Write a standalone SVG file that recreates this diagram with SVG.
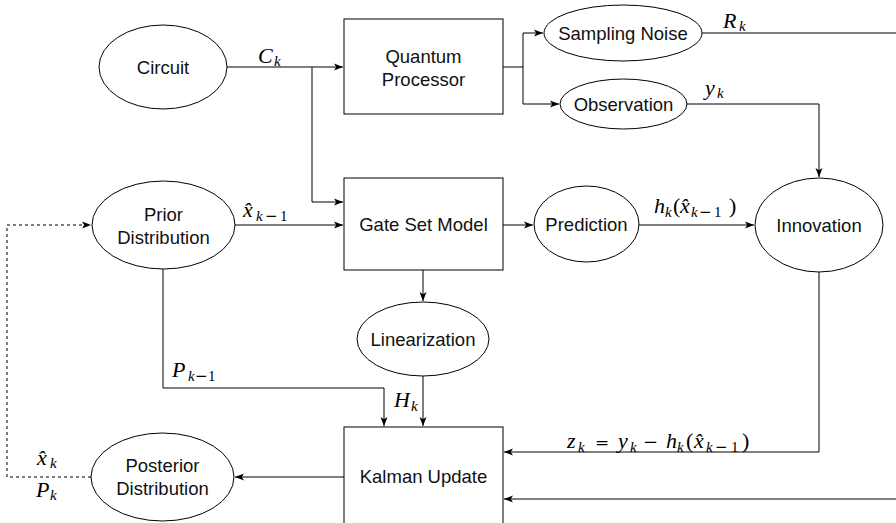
<svg xmlns="http://www.w3.org/2000/svg" width="896" height="523" viewBox="0 0 896 523">
<style>
  .shape{fill:#fff;stroke:#000;stroke-width:1}
  .lbl{font-family:"Liberation Sans",Arial,sans-serif;font-size:18.5px;fill:#111;text-anchor:middle}
  .conn{fill:none;stroke:#000;stroke-width:1}
  .dash{stroke-dasharray:3 3}
  .m{font-family:"Liberation Serif","Times New Roman",serif;font-size:22px;font-style:italic;fill:#000}
  .s{font-size:15px}
  .u{font-style:normal}
  .op{font-family:"DejaVu Serif",serif;font-style:normal}
</style>
<defs>
  <marker id="arr" markerUnits="userSpaceOnUse" markerWidth="10" markerHeight="8" refX="9" refY="4" orient="auto">
    <path d="M0,0.5 L9,4 L0,7.5 L2.2,4 Z" fill="#000"/>
  </marker>
</defs>
<g id="connectors">
  <path class="conn" d="M227,67 H343" marker-end="url(#arr)"/>
  <path class="conn" d="M312,67 V202 H343" marker-end="url(#arr)"/>
  <path class="conn" d="M503,67 H523 V33 H543" marker-end="url(#arr)"/>
  <path class="conn" d="M523,67 V104 H559" marker-end="url(#arr)"/>
  <path class="conn" d="M702,33 H896"/>
  <path class="conn" d="M687,104 H819 V177" marker-end="url(#arr)"/>
  <path class="conn" d="M235,225 H343" marker-end="url(#arr)"/>
  <path class="conn" d="M503,225 H533" marker-end="url(#arr)"/>
  <path class="conn" d="M639,225 H754" marker-end="url(#arr)"/>
  <path class="conn" d="M423,270 V301" marker-end="url(#arr)"/>
  <path class="conn" d="M163,269 V388 H384 V426" marker-end="url(#arr)"/>
  <path class="conn" d="M423,376 V426" marker-end="url(#arr)"/>
  <path class="conn" d="M819,272 V452 H504" marker-end="url(#arr)"/>
  <path class="conn" d="M896,499 H504" marker-end="url(#arr)"/>
  <path class="conn" d="M344,477 H235" marker-end="url(#arr)"/>
  <path class="conn dash" d="M91,477 H7 V225 H91" marker-end="url(#arr)"/>
</g>
<g id="edge-labels">
  <text class="m" y="63"><tspan x="258">C</tspan><tspan class="s" x="274" y="66">k</tspan></text>
  <text class="m" y="28"><tspan x="723">R</tspan><tspan class="s" x="739" y="31">k</tspan></text>
  <text class="m" y="95"><tspan x="705">y</tspan><tspan class="s" x="717" y="98">k</tspan></text>
  <text class="m" y="217"><tspan x="243">x̂</tspan><tspan class="s" x="256" y="221">k</tspan><tspan class="s op" x="265" y="221">−</tspan><tspan class="s u" x="280" y="221">1</tspan></text>
  <text class="m" y="213"><tspan x="654">h</tspan><tspan class="s" x="665" y="217">k</tspan><tspan class="u" x="673" y="213">(</tspan><tspan x="680" y="213">x̂</tspan><tspan class="s" x="691" y="217">k</tspan><tspan class="s op" x="699" y="217">−</tspan><tspan class="s u" x="714" y="217">1</tspan><tspan class="u" x="729" y="213">)</tspan></text>
  <text class="m" y="377"><tspan x="172">P</tspan><tspan class="s" x="188" y="381">k</tspan><tspan class="s op" x="195" y="381">−</tspan><tspan class="s u" x="208" y="381">1</tspan></text>
  <text class="m" y="407"><tspan x="394">H</tspan><tspan class="s" x="411" y="411">k</tspan></text>
  <text class="m" y="448"><tspan x="567">z</tspan><tspan class="s" x="578" y="452">k</tspan><tspan class="op" font-size="17" x="595" y="448">=</tspan><tspan x="618" y="448">y</tspan><tspan class="s" x="630" y="452">k</tspan><tspan class="op" font-size="18" x="643" y="448">−</tspan><tspan x="666" y="448">h</tspan><tspan class="s" x="677" y="452">k</tspan><tspan class="u" x="686" y="448">(</tspan><tspan x="694" y="448">x̂</tspan><tspan class="s" x="706" y="452">k</tspan><tspan class="s op" x="715" y="452">−</tspan><tspan class="s u" x="731" y="452">1</tspan><tspan class="u" x="742" y="448">)</tspan></text>
  <text class="m" y="465"><tspan x="37">x̂</tspan><tspan class="s" x="50" y="468">k</tspan></text>
  <text class="m" y="497"><tspan x="36">P</tspan><tspan class="s" x="50" y="500">k</tspan></text>
</g>
<g id="circuit">
  <ellipse class="shape" cx="163" cy="67" rx="64" ry="42"/>
  <text class="lbl" x="163" y="74">Circuit</text>
</g>
<g id="quantum-processor">
  <rect class="shape" x="344" y="19" width="159" height="95"/>
  <text class="lbl" x="423.5" y="63">Quantum</text>
  <text class="lbl" x="423.5" y="86">Processor</text>
</g>
<g id="sampling-noise">
  <ellipse class="shape" cx="623" cy="33" rx="79" ry="28"/>
  <text class="lbl" x="623" y="40">Sampling Noise</text>
</g>
<g id="observation">
  <ellipse class="shape" cx="623.5" cy="104" rx="63.5" ry="25"/>
  <text class="lbl" x="623.5" y="111">Observation</text>
</g>
<g id="prior-distribution">
  <ellipse class="shape" cx="163.5" cy="225" rx="71.5" ry="44"/>
  <text class="lbl" x="163.5" y="221">Prior</text>
  <text class="lbl" x="163.5" y="243.5">Distribution</text>
</g>
<g id="gate-set-model">
  <rect class="shape" x="344" y="178" width="159" height="92"/>
  <text class="lbl" x="423.5" y="231">Gate Set Model</text>
</g>
<g id="prediction">
  <ellipse class="shape" cx="586.5" cy="224" rx="52.5" ry="38"/>
  <text class="lbl" x="586.5" y="231">Prediction</text>
</g>
<g id="innovation">
  <ellipse class="shape" cx="819" cy="225" rx="64" ry="47"/>
  <text class="lbl" x="819" y="232">Innovation</text>
</g>
<g id="linearization">
  <ellipse class="shape" cx="423" cy="339" rx="66" ry="37"/>
  <text class="lbl" x="423" y="346">Linearization</text>
</g>
<g id="kalman-update">
  <rect class="shape" x="344" y="427" width="159" height="100"/>
  <text class="lbl" x="423.5" y="483">Kalman Update</text>
</g>
<g id="posterior-distribution">
  <ellipse class="shape" cx="162.5" cy="477" rx="71.5" ry="44"/>
  <text class="lbl" x="162.5" y="472">Posterior</text>
  <text class="lbl" x="162.5" y="494.5">Distribution</text>
</g>
</svg>
